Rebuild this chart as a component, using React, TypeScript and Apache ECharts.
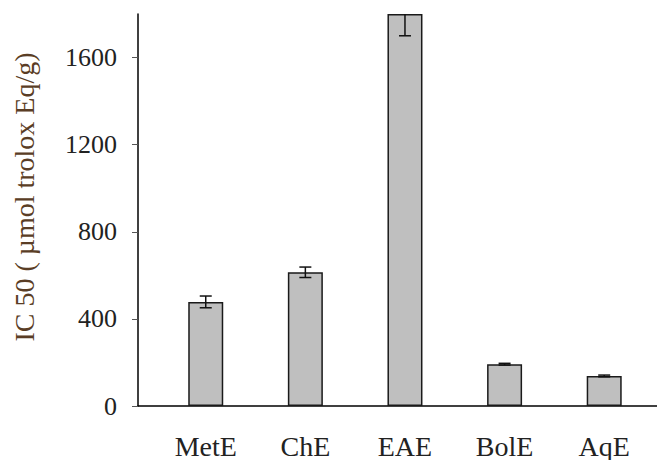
import React, { useEffect, useRef } from "react";
import * as echarts from "echarts";

const categories = ["MetE", "ChE", "EAE", "BolE", "AqE"];
const values = [478, 614, 1800, 192, 138];
const errors = [27, 24, 100, 4, 4];
const yTicks = [0, 400, 800, 1200, 1600];

const FONT = "Liberation Serif";

export default function App() {
  const ref = useRef<HTMLDivElement>(null);
  useEffect(() => {
    if (!ref.current) return;
    const chart = echarts.init(ref.current, undefined, { renderer: "svg" });
    chart.setOption({
      animation: false,
      backgroundColor: "#ffffff",
      grid: { left: 138, right: 0, top: 14, bottom: 54, containLabel: false },
      xAxis: {
        type: "value",
        min: -0.68,
        max: 4.53,
        splitLine: { show: false },
        axisTick: { show: false },
        axisLine: { show: true, onZero: false, lineStyle: { color: "#000", width: 1.5 } },
        axisLabel: {
          customValues: [0, 1, 2, 3, 4],
          formatter: (v: number) => categories[Math.round(v)] ?? "",
          margin: 26,
          fontSize: 28,
          fontFamily: FONT,
          color: "#222",
        },
      },
      yAxis: {
        type: "value",
        min: 0,
        max: 1800,
        interval: 400,
        splitLine: { show: false },
        axisLine: { show: true, onZero: false, lineStyle: { color: "#000", width: 1.5 } },
        axisTick: { show: true, length: 6, customValues: yTicks, lineStyle: { color: "#555", width: 1 } },
        axisLabel: {
          customValues: yTicks,
          formatter: (v: number) => String(v),
          margin: 21,
          fontSize: 26,
          fontFamily: FONT,
          color: "#222",
        },
        name: "IC 50 ( µmol trolox Eq/g)",
        nameLocation: "middle",
        nameGap: 100,
        nameTextStyle: {
          fontSize: 28,
          fontFamily: FONT,
          color: "#5a3d25",
          padding: [0, 0, 0, 26],
        },
      },
      series: [
        {
          type: "bar",
          barWidth: 35,
          data: values.map((v, i) => [i, v]),
          itemStyle: { color: "#bfbfbf", borderColor: "#1a1a1a", borderWidth: 1.5 },
        },
        {
          type: "custom",
          clip: true,
          encode: { x: 0, y: 1 },
          data: values.map((v, i) => [i, v, errors[i]]),
          renderItem: (params: any, api: any) => {
            const x = api.value(0);
            const y = api.value(1);
            const e = api.value(2);
            const top = api.coord([x, y + e]);
            const bot = api.coord([x, y - e]);
            const hw = 6;
            const st = { stroke: "#111", lineWidth: 1.5 };
            return {
              type: "group",
              children: [
                { type: "line", shape: { x1: top[0], y1: top[1], x2: bot[0], y2: bot[1] }, style: st },
                { type: "line", shape: { x1: top[0] - hw, y1: top[1], x2: top[0] + hw, y2: top[1] }, style: st },
                { type: "line", shape: { x1: bot[0] - hw, y1: bot[1], x2: bot[0] + hw, y2: bot[1] }, style: st },
              ],
            };
          },
          z: 5,
        },
      ],
    });
    return () => chart.dispose();
  }, []);
  return (
    <div
      ref={ref}
      style={{ position: "fixed", left: 0, top: 0, width: 657, height: 460 }}
    />
  );
}
